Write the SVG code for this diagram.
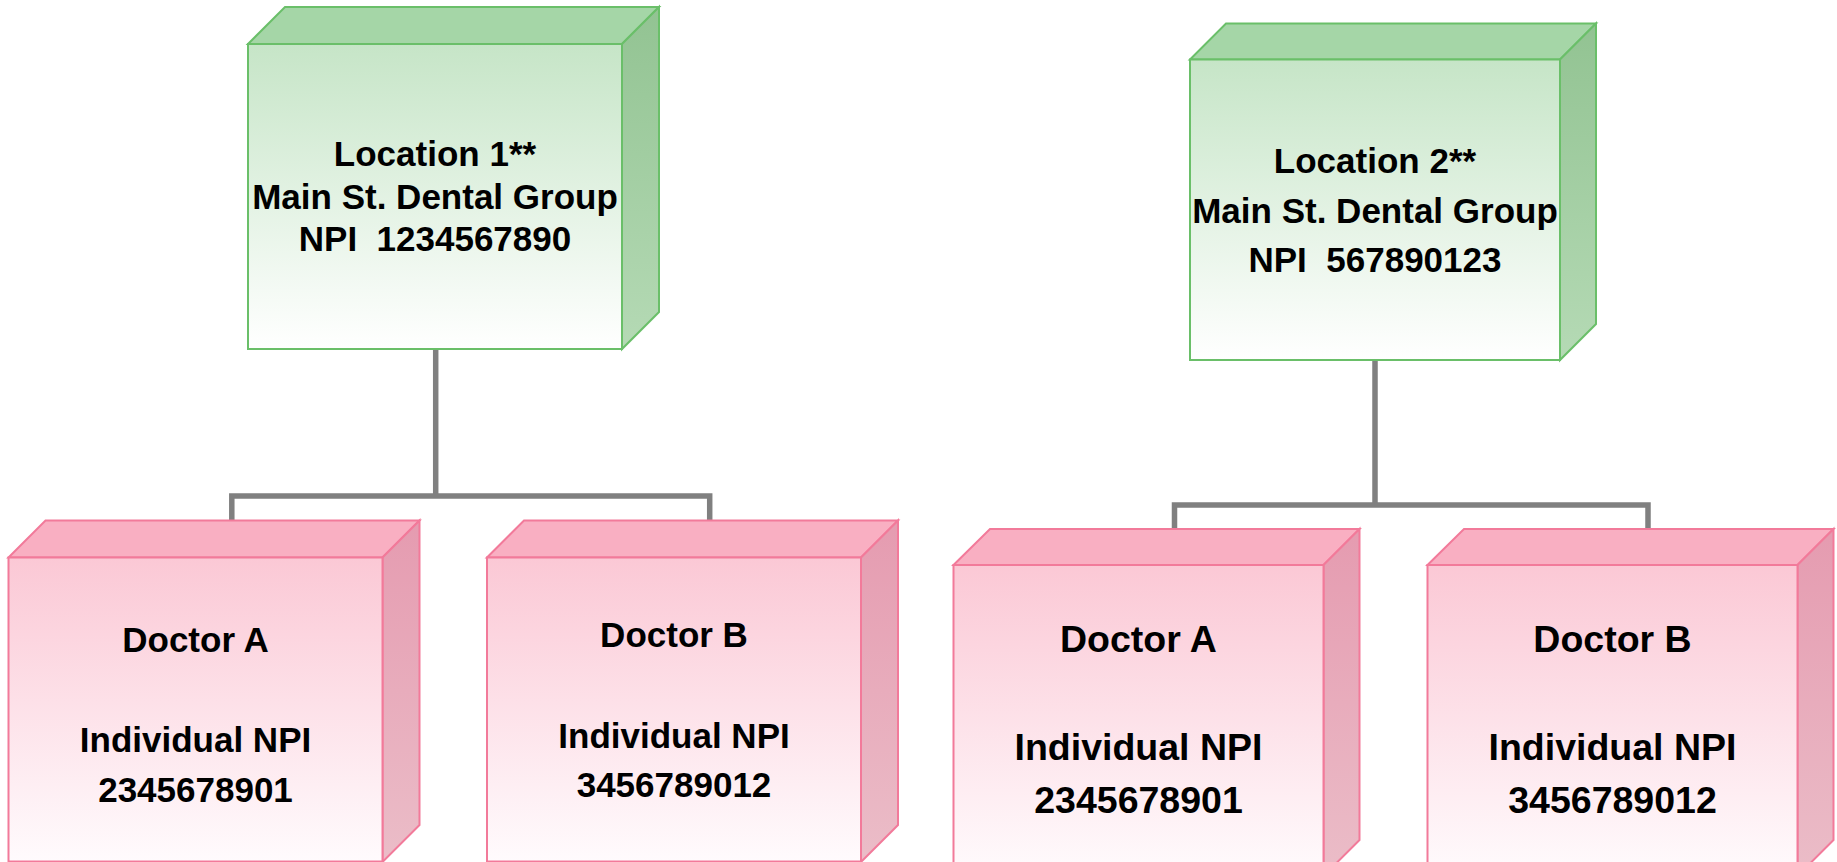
<svg xmlns="http://www.w3.org/2000/svg" width="1837" height="862" viewBox="0 0 1837 862">
<defs>
<linearGradient id="gF" x1="0" y1="0" x2="0" y2="1"><stop offset="0" stop-color="#c6e5c7"/><stop offset="1" stop-color="#ffffff"/></linearGradient>
<linearGradient id="gS" x1="0" y1="0" x2="0" y2="1"><stop offset="0" stop-color="#92c392"/><stop offset="1" stop-color="#b5dab5"/></linearGradient>
<linearGradient id="pF" x1="0" y1="0" x2="0" y2="1"><stop offset="0" stop-color="#fbc8d5"/><stop offset="1" stop-color="#fffbfd"/></linearGradient>
<linearGradient id="pS" x1="0" y1="0" x2="0" y2="1"><stop offset="0" stop-color="#e59bb0"/><stop offset="1" stop-color="#ebbdc8"/></linearGradient>
</defs>
<style>
.g{stroke:#6abf69;stroke-width:2;stroke-linejoin:miter}
.g .top{fill:#a5d6a7}.g .side{fill:url(#gS)}.g .front{fill:url(#gF)}
.p{stroke:#f27a9a;stroke-width:2;stroke-linejoin:miter}
.p .top{fill:#f9afc2}.p .side{fill:url(#pS)}.p .front{fill:url(#pF)}
text{font-family:"Liberation Sans",Arial,sans-serif;font-weight:bold;fill:#000;stroke:none;text-anchor:middle;white-space:pre}
.t34{font-size:35px}.t37{font-size:37.5px}
.conn{fill:none;stroke:#808080;stroke-width:5.5}
</style>
<g id="connectors">
<path class="conn" d="M435.7,349 V496 M231.8,521 V496 H709.7 V521"/>
<path class="conn" d="M1375,360 V505 M1174.5,529 V505 H1648 V529"/>
</g>
<g id="location1" class="g">
<polygon class="top" points="248,44 285,7 659,7 622,44"/>
<polygon class="side" points="622,44 659,7 659,312 622,349"/>
<rect class="front" x="248" y="44" width="374" height="305"/>
<text class="t34" x="435" y="166">Location 1**</text>
<text class="t34" x="435" y="209">Main St. Dental Group</text>
<text class="t34" x="435" y="251" xml:space="preserve">NPI  1234567890</text>
</g>
<g id="location2" class="g">
<polygon class="top" points="1190,59.5 1226,23.5 1596,23.5 1560,59.5"/>
<polygon class="side" points="1560,59.5 1596,23.5 1596,324 1560,360"/>
<rect class="front" x="1190" y="59.5" width="370" height="300.5"/>
<text class="t34" x="1375" y="172.5">Location 2**</text>
<text class="t34" x="1375" y="223">Main St. Dental Group</text>
<text class="t34" x="1375" y="272" xml:space="preserve">NPI  567890123</text>
</g>
<g id="doctorA1" class="p">
<polygon class="top" points="8.5,557.5 45.5,520.5 419.5,520.5 382.5,557.5"/>
<polygon class="side" points="382.5,557.5 419.5,520.5 419.5,825 382.5,862"/>
<rect class="front" x="8.5" y="557.5" width="374" height="304"/>
<text class="t34" x="195.5" y="651.5">Doctor A</text>
<text class="t34" x="195.5" y="751.5">Individual NPI</text>
<text class="t34" x="195.5" y="801.5">2345678901</text>
</g>
<g id="doctorB1" class="p">
<polygon class="top" points="487,557.5 524,520.5 898,520.5 861,557.5"/>
<polygon class="side" points="861,557.5 898,520.5 898,825 861,862"/>
<rect class="front" x="487" y="557.5" width="374" height="304"/>
<text class="t34" x="674" y="646.5">Doctor B</text>
<text class="t34" x="674" y="747.5">Individual NPI</text>
<text class="t34" x="674" y="796.5">3456789012</text>
</g>
<g id="doctorA2" class="p">
<polygon class="top" points="953.5,565 990,529 1359.5,529 1323.5,565"/>
<polygon class="side" points="1323.5,565 1359.5,529 1359.5,840 1323.5,876"/>
<rect class="front" x="953.5" y="565" width="370" height="311"/>
<text class="t37" x="1138.5" y="652">Doctor A</text>
<text class="t37" x="1138.5" y="760">Individual NPI</text>
<text class="t37" x="1138.5" y="813">2345678901</text>
</g>
<g id="doctorB2" class="p">
<polygon class="top" points="1427.5,565 1464,529 1833.5,529 1797.5,565"/>
<polygon class="side" points="1797.5,565 1833.5,529 1833.5,840 1797.5,876"/>
<rect class="front" x="1427.5" y="565" width="370" height="311"/>
<text class="t37" x="1612.5" y="652">Doctor B</text>
<text class="t37" x="1612.5" y="760">Individual NPI</text>
<text class="t37" x="1612.5" y="813">3456789012</text>
</g>
</svg>
